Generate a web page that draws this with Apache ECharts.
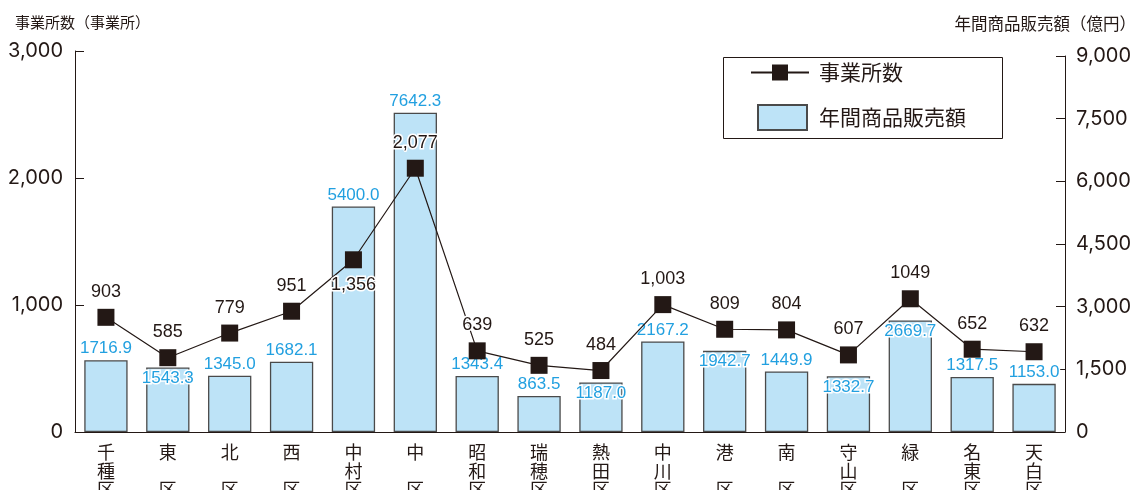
<!DOCTYPE html>
<html>
<head>
<meta charset="utf-8">
<script src="https://cdn.jsdelivr.net/npm/echarts@6/dist/echarts.min.js"></script>
<style>
  html, body { margin: 0; padding: 0; background: #fff; }
  #chart { width: 1147px; height: 490px; }
</style>
</head>
<body>
<div id="chart"></div>
<script>
// 名古屋市 区別 事業所数・年間商品販売額
const wards = ['千種区', '東区', '北区', '西区', '中村区', '中区', '昭和区', '瑞穂区',
  '熱田区', '中川区', '港区', '南区', '守山区', '緑区', '名東区', '天白区'];
const establishments = [903, 585, 779, 951, 1356, 2077, 639, 525, 484, 1003, 809, 804, 607, 1049, 652, 632];
const establishmentLabels = ['903', '585', '779', '951', '1,356', '2,077', '639', '525', '484',
  '1,003', '809', '804', '607', '1049', '652', '632'];
const sales = [1716.9, 1543.3, 1345.0, 1682.1, 5400.0, 7642.3, 1343.4, 863.5, 1187.0,
  2167.2, 1942.7, 1449.9, 1332.7, 2669.7, 1317.5, 1153.0];
// where each value label sits relative to its mark
const establishmentLabelPos = ['top', 'top', 'top', 'top', 'bottom', 'top', 'top', 'top', 'top',
  'top', 'top', 'top', 'top', 'top', 'top', 'top'];
const salesLabelPos = ['top', 'insideTop', 'top', 'top', 'top', 'top', 'top', 'top', 'insideTop',
  'top', 'insideTop', 'top', 'insideTop', 'insideTop', 'top', 'top'];
const leftTicks = { min: 0, max: 3000, interval: 1000 };
const rightTicks = { min: 0, max: 9000, interval: 1500 };

const INK = '#231815';
const BLUE_TEXT = '#22a0e0';
const BAR_FILL = '#bde3f7';
const AXIS_FONT = "Inter, 'Liberation Sans', sans-serif";
const NUM_FONT = "'Liberation Sans', 'Noto Sans CJK JP', sans-serif";
const JP_FONT = "'Noto Sans CJK JP', sans-serif";

// category labels are stacked vertically; two-character names keep 区 on the third row
function verticalName(name) {
  const chars = name.split('');
  if (chars.length === 2) return chars[0] + '\n\n' + chars[1];
  return chars.join('\n');
}

const chart = echarts.init(document.getElementById('chart'), null, { renderer: 'canvas' });

// the count scale (left) reaches a little higher than the sales scale (right),
// so each scale gets its own grid over the same plot floor
const plotSides = { left: 75, right: 82, bottom: 58, containLabel: false, outerBoundsMode: 'none' };

chart.setOption({
  animation: false,
  backgroundColor: '#fff',
  grid: [
    Object.assign({ top: 51 }, plotSides),
    Object.assign({ top: 56 }, plotSides)
  ],
  title: [
    { text: '事業所数（事業所）', left: 10, top: 10,
      textStyle: { fontFamily: JP_FONT, fontSize: 15, fontWeight: 'normal', color: INK } },
    { text: '年間商品販売額（億円）', right: 6, top: 10,
      textStyle: { fontFamily: JP_FONT, fontSize: 16.5, fontWeight: 'normal', color: INK } }
  ],
  graphic: [{
    type: 'rect', left: 723, top: 57, z: 5,
    shape: { width: 279, height: 81 },
    style: { fill: '#fff', stroke: INK, lineWidth: 1 }
  }],
  legend: [
    {
      data: ['事業所数'], left: 750, top: 62, padding: 0, z: 10,
      itemWidth: 58, itemHeight: 20,
      textStyle: { fontFamily: JP_FONT, fontSize: 21, color: INK, padding: [0, 0, 0, 5] }
    },
    {
      data: [{ name: '年間商品販売額', icon: 'rect' }], left: 757, top: 104, padding: 0, z: 10,
      itemWidth: 49, itemHeight: 25,
      textStyle: { fontFamily: JP_FONT, fontSize: 21, color: INK, padding: [0, 0, 0, 7] }
    }
  ],
  xAxis: [
    {
      type: 'category', gridIndex: 0,
      data: wards,
      boundaryGap: true,
      axisLine: { lineStyle: { color: INK, width: 1 } },
      axisTick: { inside: true, length: 7, interval: 0, lineStyle: { color: INK } },
      axisLabel: {
        interval: 0, margin: 11, color: INK, fontFamily: JP_FONT, fontSize: 18, lineHeight: 18.5,
        formatter: verticalName
      }
    },
    {
      type: 'category', gridIndex: 1,
      data: wards,
      boundaryGap: true,
      show: false
    }
  ],
  yAxis: [
    {
      type: 'value', gridIndex: 0, position: 'left',
      min: leftTicks.min, max: leftTicks.max, interval: leftTicks.interval,
      axisLine: { show: true, lineStyle: { color: INK, width: 1 } },
      axisTick: { show: true, inside: true, length: 9, lineStyle: { color: INK } },
      splitLine: { show: false },
      axisLabel: {
        margin: 12, color: INK, fontFamily: AXIS_FONT, fontSize: 20,
        formatter: v => v.toLocaleString('en-US')
      }
    },
    {
      type: 'value', gridIndex: 1, position: 'right',
      min: rightTicks.min, max: rightTicks.max, interval: rightTicks.interval,
      axisLine: { show: true, lineStyle: { color: INK, width: 1 } },
      axisTick: { show: true, inside: true, length: 9, lineStyle: { color: INK } },
      splitLine: { show: false },
      axisLabel: {
        margin: 11, color: INK, fontFamily: AXIS_FONT, fontSize: 20,
        formatter: v => v.toLocaleString('en-US')
      }
    }
  ],
  series: [
    {
      name: '年間商品販売額',
      type: 'bar',
      xAxisIndex: 1,
      yAxisIndex: 1,
      barWidth: '70%',
      itemStyle: { color: BAR_FILL, borderColor: '#4a4a4a', borderWidth: 1.3 },
      data: sales.map((v, i) => ({
        value: v,
        label: { position: salesLabelPos[i], distance: salesLabelPos[i] === 'top' ? 3 : 2 }
      })),
      label: {
        show: true, color: BLUE_TEXT, fontFamily: NUM_FONT, fontSize: 17,
        textBorderColor: '#fff', textBorderWidth: 3,
        formatter: p => p.value.toFixed(1)
      },
      z: 2
    },
    {
      name: '事業所数',
      type: 'line',
      xAxisIndex: 0,
      yAxisIndex: 0,
      symbol: 'rect',
      symbolSize: 17,
      lineStyle: { color: INK, width: 1.2 },
      itemStyle: { color: INK },
      data: establishments.map((v, i) => ({
        value: v,
        label: { position: establishmentLabelPos[i], distance: 8 }
      })),
      label: {
        show: true, color: INK, fontFamily: NUM_FONT, fontSize: 18,
        textBorderColor: '#fff', textBorderWidth: 3,
        formatter: p => establishmentLabels[p.dataIndex]
      },
      z: 4
    }
  ]
});
</script>
</body>
</html>
